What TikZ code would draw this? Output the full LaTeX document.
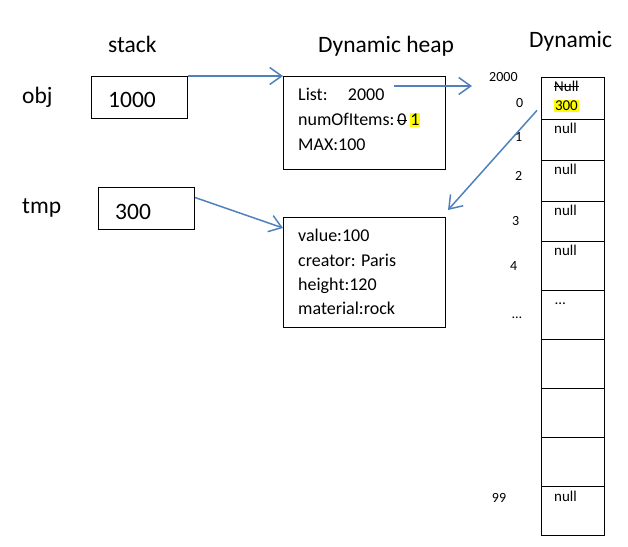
\documentclass[tikz,border=0pt]{standalone}
\usepackage{fontspec}
\setmainfont{Carlito}
\usepackage{xcolor}
\usetikzlibrary{arrows.meta}
\definecolor{ptrblue}{RGB}{79,129,189}
\definecolor{marker}{RGB}{255,255,0}
\newcommand{\hilite}[1]{{\setlength{\fboxsep}{0.8pt}\colorbox{marker}{#1}}}
\newcommand{\strikeout}[1]{{\setbox0\hbox{#1}\rlap{\rule[0.25em]{\wd0}{0.07em}}\box0}}

\begin{document}
\begin{tikzpicture}[x=1pt,y=-1pt,
            box/.style={draw, line width=1pt, inner sep=0pt, anchor=north west},
            lbl/.style={inner sep=0pt, anchor=base west},
            bigtxt/.style={font=\fontsize{23.5}{28}\selectfont},
            fieldtxt/.style={font=\fontsize{18}{22}\selectfont},
            celltxt/.style={font=\fontsize{15}{18}\selectfont},
            idxtxt/.style={font=\fontsize{14}{16}\selectfont},
            ptr/.style={draw=ptrblue, line width=1.5pt, -{Straight Barb[length=12pt,width=17pt,line width=1.5pt]}}]
        \useasboundingbox (0,0) rectangle (628,546);

        % titles and variable names
        \node[lbl,bigtxt] (stacktitle) at (108,52) {stack};
        \node[lbl,bigtxt] (heaptitle) at (318,52) {Dynamic heap};
        \node[lbl,bigtxt] (arraytitle) at (529,47) {Dynamic};
        \node[lbl,bigtxt] (objname) at (22,103) {obj};
        \node[lbl,bigtxt] (tmpname) at (22,213) {tmp};

        % stack
        \node[box, minimum width=96pt, minimum height=42pt] (obj) at (91,76) {};
        \node[lbl,bigtxt] (objval) at (108,107) {1000};
        \node[box, minimum width=96pt, minimum height=42pt] (tmp) at (98,187) {};
        \node[lbl,bigtxt] (tmpval) at (115,219) {300};

        % heap objects
        \node[box, minimum width=162pt, minimum height=93pt] (list) at (283,76) {};
        \node[lbl,fieldtxt] (listarr) at (298,100.7) {List:};
        \node[lbl,fieldtxt] (listaddr) at (347.7,100.7) {2000};
        \node[lbl,fieldtxt] (listnum) at (298,125.7) {numOfItems:\,\strikeout{0}\,\hilite{1}};
        \node[lbl,fieldtxt] (listmax) at (298,150) {MAX:100};

        \node[box, minimum width=162pt, minimum height=110pt] (stone) at (283,217) {};
        \node[lbl,fieldtxt] (stoneval) at (298,241.7) {value:100};
        \node[lbl,fieldtxt] (stonecre) at (298,266) {creator: Paris};
        \node[lbl,fieldtxt] (stonehgt) at (298,290.7) {height:120};
        \node[lbl,fieldtxt] (stonemat) at (298,314.3) {material:rock};

        % array cells
        \foreach \i/\t/\b in {0/77/118.7, 1/118.7/160, 2/160/200.7, 3/200.7/241, 4/241/290,
                              5/290/339, 6/339/388, 7/388/437, 8/437/486, 9/486/535}
            \node[box, minimum width=63pt, minimum height={\b pt-\t pt}] (cell\i) at (541,\t) {};

        \node[lbl,celltxt] (cellold) at (554,91) {\strikeout{Null}};
        \node[lbl,celltxt] (cellnew) at (554,110.7) {\hilite{300}};
        \node[lbl,celltxt] (cellnull1) at (554,133) {null};
        \node[lbl,celltxt] (cellnull2) at (554,174.5) {null};
        \node[lbl,celltxt] (cellnull3) at (554,215) {null};
        \node[lbl,celltxt] (cellnull4) at (554,255.5) {null};
        \node[lbl,celltxt] (celldots) at (555,304) {…};
        \node[lbl,celltxt] (cellnull99) at (554,501.7) {null};

        % indices
        \node[lbl,idxtxt] (arraddr) at (489,81.7) {2000};
        \node[lbl,idxtxt] (idx0) at (516,107.7) {0};
        \node[lbl,idxtxt] (idx1) at (515,141.7) {1};
        \node[lbl,idxtxt] (idx2) at (515,180) {2};
        \node[lbl,idxtxt] (idx3) at (512,225) {3};
        \node[lbl,idxtxt] (idx4) at (510,270.7) {4};
        \node[lbl,idxtxt] (idxdots) at (512,318) {…};
        \node[lbl,idxtxt] (idx99) at (491.7,502.7) {99};

        % pointers
        \coordinate (listptr) at (394,86);
        \coordinate (arrptr) at (472,86);
        \draw[ptr] (obj.north east) -- (list.north west);
        \draw[ptr] (listptr) -- (arrptr);
        \draw[ptr] ([yshift=11pt]tmp.east) -- ([yshift=-11pt]stone.north west);
        \draw[ptr] ([shift={(-4pt,-12pt)}]cell0.west) -- ([shift={(2pt,7pt)}]stone.north east);
    \end{tikzpicture}
\end{document}
